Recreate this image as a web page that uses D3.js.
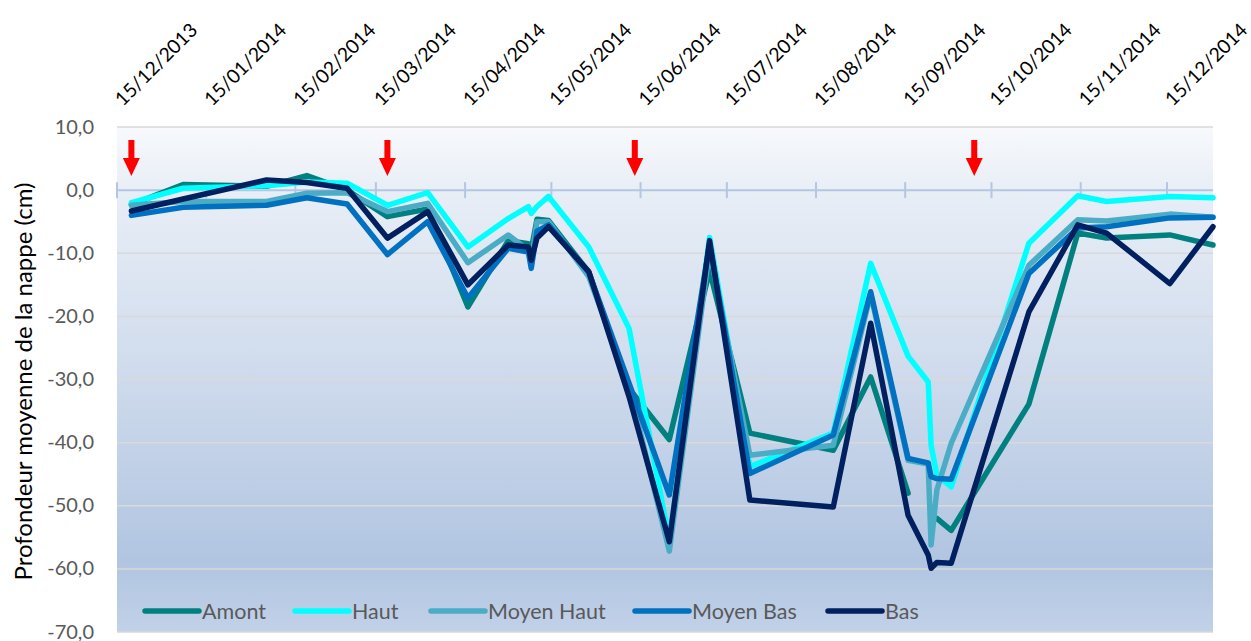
<!DOCTYPE html>
<html>
<head>
<meta charset="utf-8">
<script src="https://cdn.jsdelivr.net/npm/d3@7"></script>
<style>
  body { margin: 0; background: #ffffff; }
  text { font-family: Lato, "Open Sans", sans-serif; }
</style>
</head>
<body>
<svg id="chart" width="1251" height="641"></svg>
<script>
// Sampling dates (dd/mm/yyyy) shared by every monitoring zone
const sampleDates = [
  "20/12/2013", "07/01/2014", "05/02/2014", "19/02/2014", "05/03/2014", "19/03/2014",
  "02/04/2014", "16/04/2014", "30/04/2014", "07/05/2014", "08/05/2014", "10/05/2014",
  "14/05/2014", "28/05/2014", "11/06/2014", "25/06/2014", "09/07/2014", "23/07/2014",
  "21/08/2014", "03/09/2014", "16/09/2014", "23/09/2014", "24/09/2014", "26/09/2014",
  "01/10/2014", "28/10/2014", "14/11/2014", "24/11/2014", "16/12/2014", "31/12/2014"
];

// Mean water-table depth (cm) per zone; null = no reading (line is broken)
const amont     = [-2.3, 0.9, 0.6, 2.3, 0.0, -4.2, -3.0, -18.5, -8.0, -8.5, -9.5, -4.6, -4.8, -13.0, -31.4, -39.5, -12.7, -38.5, -41.2, -29.6, -48.0, null, null, -52.0, -53.9, -33.9, -6.8, -7.6, -7.1, -8.7];
const haut      = [-2.0, 0.3, 0.7, 1.3, 1.1, -2.4, -0.4, -9.0, -4.5, -2.6, -3.7, -2.6, -1.0, -9.0, -21.9, -55.5, -7.5, -43.8, -38.5, -11.6, -26.3, -30.4, -40.4, -45.1, -47.0, -8.4, -0.9, -1.8, -1.0, -1.2];
const moyenHaut = [-2.4, -1.8, -1.8, -0.5, -0.4, -3.4, -2.1, -11.5, -7.1, -9.5, -11.1, -5.0, -5.0, -13.7, -31.0, -57.2, -9.5, -42.0, -40.4, -16.5, -42.8, -43.4, -56.2, -47.5, -40.1, -11.9, -4.7, -4.9, -3.8, -4.3];
const moyenBas  = [-4.0, -2.7, -2.4, -1.2, -2.2, -10.2, -5.0, -17.1, -9.2, -9.8, -12.4, -6.5, -5.5, -13.0, -30.6, -48.3, -8.5, -44.9, -38.8, -16.1, -42.5, -43.2, -45.4, -45.7, -45.8, -13.2, -6.0, -5.8, -4.4, -4.3];
const bas       = [-3.3, -1.4, 1.6, 1.2, 0.3, -7.6, -3.4, -15.0, -8.7, -9.0, -11.1, -7.6, -5.8, -12.9, -32.7, -55.7, -8.0, -49.1, -50.2, -21.1, -51.5, -57.8, -59.9, -59.0, -59.1, -19.3, -5.5, -6.8, -14.8, -5.8];

const seriesNames  = ["Amont", "Haut", "Moyen Haut", "Moyen Bas", "Bas"];
const seriesColors = ["#00807f", "#00ffff", "#4bacc6", "#0070c0", "#002060"];

// Monthly axis labels and the dates flagged with a red arrow
const tickDates = [
  "15/12/2013", "15/01/2014", "15/02/2014", "15/03/2014", "15/04/2014", "15/05/2014",
  "15/06/2014", "15/07/2014", "15/08/2014", "15/09/2014", "15/10/2014", "15/11/2014", "15/12/2014"
];
const arrowDates = ["20/12/2013", "19/03/2014", "13/06/2014", "09/10/2014"];
const yTicks = [10, 0, -10, -20, -30, -40, -50, -60, -70];
const xDomain = ["15/12/2013", "31/12/2014"];

const parse = d3.timeParse("%d/%m/%Y");
const fmtY = v => d3.format(".1f")(v).replace(".", ",").replace("−", "-");

const svg = d3.select("#chart");
const plot = { left: 117, right: 1213, top: 127, bottom: 632 };

const x = d3.scaleTime().domain(xDomain.map(parse)).range([plot.left, plot.right]);
const y = d3.scaleLinear().domain([-70, 10]).range([plot.bottom, plot.top]);

// Plot background: pale at the top, shading to light blue
const defs = svg.append("defs");
const grad = defs.append("linearGradient").attr("id", "bg").attr("x1", 0).attr("y1", 0).attr("x2", 0).attr("y2", 1);
[[0, "#f7f9fc"], [0.13, "#e8eef6"], [0.5, "#cedaec"], [0.86, "#b1c5e1"], [1, "#c1d1e8"]]
  .forEach(([o, c]) => grad.append("stop").attr("offset", o).attr("stop-color", c));

svg.append("rect")
  .attr("x", plot.left).attr("y", plot.top)
  .attr("width", plot.right - plot.left).attr("height", plot.bottom - plot.top)
  .attr("fill", "url(#bg)");

// Horizontal gridlines
svg.append("g").selectAll("line")
  .data(yTicks.filter(v => v !== 0))
  .join("line")
  .attr("x1", plot.left).attr("x2", plot.right)
  .attr("y1", d => y(d)).attr("y2", d => y(d))
  .attr("stroke", "#d9d9d9").attr("stroke-width", 1.5);

// Y axis labels
const yAxis = svg.append("g")
  .attr("transform", `translate(${plot.left - 23},0)`)
  .call(d3.axisLeft(y).tickValues(yTicks).tickFormat(fmtY).tickSize(0).tickPadding(0));
yAxis.select(".domain").remove();
yAxis.selectAll("text")
  .attr("fill", "#595959").attr("font-size", 20).attr("dy", "0.3em")
  .style("font-family", "Lato, sans-serif");

// Time axis drawn along zero, with crossing tick marks
const xAxisY = y(0);
svg.append("line")
  .attr("x1", plot.left).attr("x2", plot.right)
  .attr("y1", xAxisY).attr("y2", xAxisY)
  .attr("stroke", "#b4c6e2").attr("stroke-width", 2);
const tickParsed = tickDates.map(parse);
svg.append("g").selectAll("line")
  .data(tickParsed)
  .join("line")
  .attr("x1", d => x(d)).attr("x2", d => x(d))
  .attr("y1", xAxisY - 8).attr("y2", xAxisY + 8)
  .attr("stroke", "#b4c6e2").attr("stroke-width", 2);

// Date labels above the plot
svg.append("g").selectAll("text")
  .data(tickDates)
  .join("text")
  .attr("transform", d => `translate(${x(parse(d)) + 6},107) rotate(-45)`)
  .attr("text-anchor", "start")
  .attr("font-size", 19.3)
  .attr("fill", "#000000")
  .text(d => d);

// Series lines
const allSeries = [amont, haut, moyenHaut, moyenBas, bas];
const dates = sampleDates.map(parse);
const line = d3.line()
  .defined(d => d.v !== null)
  .x(d => x(d.date))
  .y(d => y(d.v));

svg.append("g").selectAll("path")
  .data(allSeries)
  .join("path")
  .attr("d", vals => line(vals.map((v, i) => ({ date: dates[i], v }))))
  .attr("fill", "none")
  .attr("stroke", (d, i) => seriesColors[i])
  .attr("stroke-width", 5.5)
  .attr("stroke-linecap", "round")
  .attr("stroke-linejoin", "round");

// Red arrows marking campaign dates
svg.append("g").selectAll("path")
  .data(arrowDates.map(parse))
  .join("path")
  .attr("d", d => {
    const cx = x(d), top = 140, neck = 158, tip = 176;
    return `M${cx - 3},${top}L${cx + 3},${top}L${cx + 3},${neck}L${cx + 8.5},${neck}L${cx},${tip}L${cx - 8.5},${neck}L${cx - 3},${neck}Z`;
  })
  .attr("fill", "#ff0000");

// Y axis title
svg.append("text")
  .attr("transform", `translate(32,${(plot.top + plot.bottom) / 2 + 2}) rotate(-90)`)
  .attr("text-anchor", "middle")
  .attr("font-size", 24)
  .attr("fill", "#000000")
  .text("Profondeur moyenne de la nappe (cm)");

// Legend along the bottom of the plot
const legendStarts = [145, 295, 431, 635, 828];
const legend = svg.append("g").selectAll("g")
  .data(seriesNames)
  .join("g")
  .attr("transform", (d, i) => `translate(${legendStarts[i]},611)`);
legend.append("line")
  .attr("x1", 0).attr("x2", 54)
  .attr("stroke", (d, i) => seriesColors[i])
  .attr("stroke-width", 5.5)
  .attr("stroke-linecap", "round");
legend.append("text")
  .attr("x", 57).attr("dy", "0.35em")
  .attr("font-size", 21.5)
  .attr("fill", "#595959")
  .text(d => d);
</script>
</body>
</html>
